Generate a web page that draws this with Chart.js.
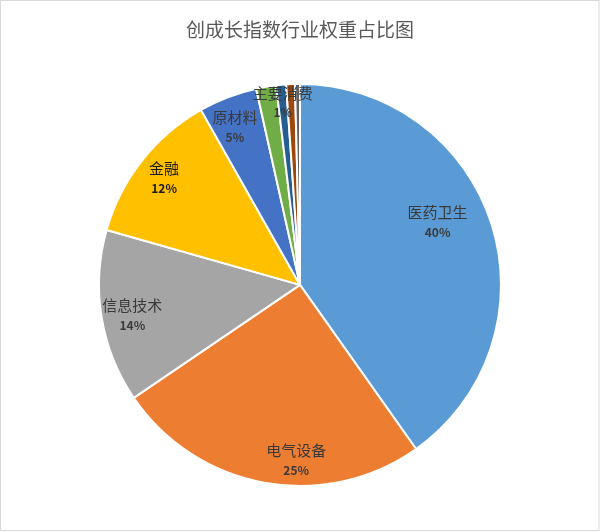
<!DOCTYPE html>
<html>
<head>
<meta charset="utf-8">
<script src="https://cdn.jsdelivr.net/npm/chart.js@4/dist/chart.umd.min.js"></script>
<style>
  html, body { margin: 0; padding: 0; background: #fff; }
  #wrap { width: 600px; height: 532px; }
</style>
</head>
<body>
<div id="wrap"><canvas id="pieChart" width="600" height="532"></canvas></div>
<script>
// Data (percent weights)
const sectors = ['医药卫生', '电气设备', '信息技术', '金融', '原材料', '可选消费', '主要消费', '公用事业', '电信业务'];
const weights = [40.2, 25.3, 13.9, 12.4, 4.7, 1.6, 0.8, 0.7, 0.4];
const sliceColors = ['#5B9BD5', '#ED7D31', '#A5A5A5', '#FFC000', '#4472C4', '#70AD47', '#255E91', '#9E480E', '#636363'];
const labelledSlices = [0, 1, 2, 3, 4, 6];

const font = '"Noto Sans CJK SC", "Noto Sans", sans-serif';

// White background and thin grey frame like the Excel chart area
const frame = {
    id: 'frame',
    beforeDraw(chart) {
        const ctx = chart.ctx;
        ctx.save();
        ctx.fillStyle = '#fff';
        ctx.fillRect(0, 0, chart.width, chart.height);
        ctx.strokeStyle = '#d9d9d9';
        ctx.lineWidth = 1;
        ctx.strokeRect(0.5, 0.5, chart.width - 1.5, chart.height - 2);
        ctx.restore();
    }
};

// Draw name + percent inside each slice (Excel "best fit" style)
const sliceLabels = {
    id: 'sliceLabels',
    afterDatasetsDraw(chart, args, opts) {
        const ctx = chart.ctx;
        const meta = chart.getDatasetMeta(0);
        const total = weights.reduce((a, b) => a + b, 0);
        ctx.save();
        ctx.textAlign = 'center';
        ctx.textBaseline = 'middle';
        meta.data.forEach((arc, i) => {
            if (!labelledSlices.includes(i)) return;
            const p = arc.getProps(['x', 'y', 'startAngle', 'endAngle', 'outerRadius'], true);
            const mid = (p.startAngle + p.endAngle) / 2;
            const r = p.outerRadius * (opts.radius[i] || 0.86);
            const shift = opts.shift[i] || [0, 0];
            const x = p.x + Math.cos(mid) * r + shift[0];
            const y = p.y + Math.sin(mid) * r + shift[1];
            ctx.fillStyle = i === 3 ? '#1a1a1a' : '#3a3a3a';
            ctx.font = '15px ' + font;
            ctx.fillText(sectors[i], x, y - 10);
            ctx.font = 'bold 12px ' + font;
            ctx.fillText(Math.round(weights[i] / total * 100) + '%', x, y + 10);
        });
        ctx.restore();
    }
};

new Chart(document.getElementById('pieChart').getContext('2d'), {
    type: 'pie',
    data: {
        labels: sectors,
        datasets: [{
            data: weights,
            backgroundColor: sliceColors,
            borderColor: '#ffffff',
            borderWidth: 2
        }]
    },
    options: {
        responsive: false,
        animation: false,
        layout: { padding: { top: 0, bottom: 45, left: 98, right: 98 } },
        plugins: {
            legend: { display: false },
            tooltip: { enabled: false },
            title: {
                display: true,
                text: '创成长指数行业权重占比图',
                color: '#595959',
                font: { family: font, size: 19, weight: 'normal' },
                padding: { top: 18, bottom: 42 }
            },
            sliceLabels: {
                radius: { 0: 0.76, 6: 0.91 },
                shift: { 0: [-8, -16], 1: [27, 5], 2: [3, 3], 4: [-3, 4] }
            }
        }
    },
    plugins: [frame, sliceLabels]
});
</script>
</body>
</html>
